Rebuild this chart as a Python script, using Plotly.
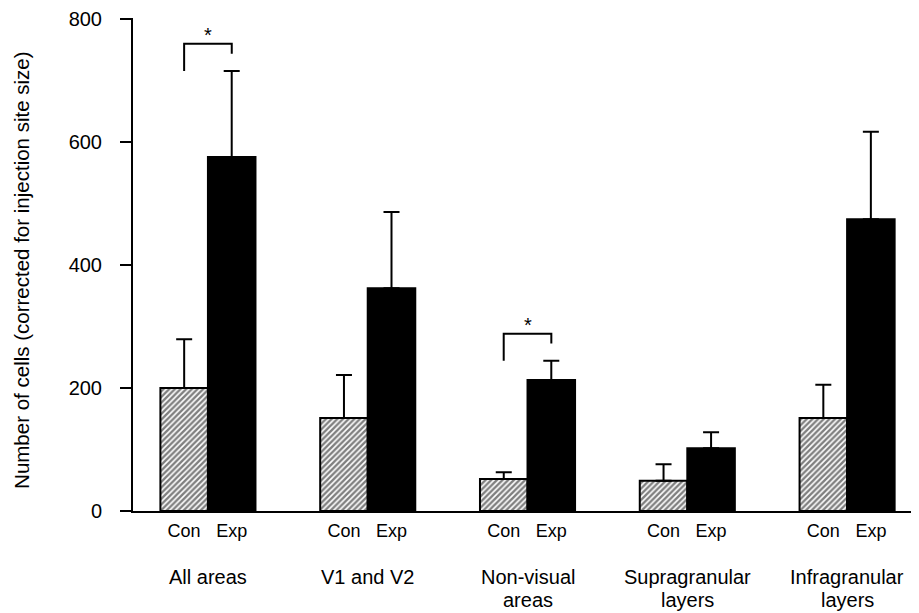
import plotly.graph_objects as go

# ---- data ----
group_lines = [["All areas"], ["V1 and V2"], ["Non-visual", "areas"],
               ["Supragranular", "layers"], ["Infragranular", "layers"]]
con_values = [200, 151, 52, 49, 151]
con_err_top = [279, 221, 63, 76, 205]
exp_values = [575, 362, 213, 102, 474]
exp_err_top = [715, 486, 244, 128, 616]
bar_labels = ["Con", "Exp"]
significant = [0, 2]  # groups with "*"
y_ticks = [0, 200, 400, 600, 800]
y_title = "Number of cells (corrected for injection site size)"

FONT = "Liberation Sans, Arial, Helvetica, sans-serif"
x = list(range(len(group_lines)))
half = 0.149  # offset of each bar centre from group centre

fig = go.Figure()
fig.add_trace(go.Bar(
    x=x, y=con_values, name="Con",
    marker=dict(color="white", line=dict(color="black", width=2),
                pattern=dict(shape="/", fgcolor="black", bgcolor="white", size=4, solidity=0.6)),
    error_y=dict(type="data", symmetric=False,
                 array=[t - v for t, v in zip(con_err_top, con_values)],
                 arrayminus=[0] * len(con_values),
                 color="black", thickness=2, width=8),
))
fig.add_trace(go.Bar(
    x=x, y=exp_values, name="Exp",
    marker=dict(color="black", line=dict(color="black", width=2)),
    error_y=dict(type="data", symmetric=False,
                 array=[t - v for t, v in zip(exp_err_top, exp_values)],
                 arrayminus=[0] * len(exp_values),
                 color="black", thickness=2, width=8),
))

# significance brackets
for g in significant:
    base = exp_err_top[g]
    top = base + 44
    fig.add_trace(go.Scatter(
        x=[g - half, g - half, g + half, g + half],
        y=[base, top, top, top - 16],
        mode="lines", line=dict(color="black", width=2),
        hoverinfo="skip", showlegend=False,
    ))
    fig.add_annotation(x=g, y=top, text="*", showarrow=False, yanchor="bottom",
                       yshift=-4, font=dict(family=FONT, size=20, color="black"))

# group labels (one annotation per line)
for i, lines in enumerate(group_lines):
    for k, line in enumerate(lines):
        fig.add_annotation(x=i, y=0, text=line, showarrow=False, yanchor="middle",
                           yshift=-66 - 23 * k,
                           font=dict(family=FONT, size=20, color="black"))

# y-axis title
fig.add_annotation(xref="paper", yref="paper", x=0, y=0.489, xanchor="center",
                   yanchor="middle", xshift=-111, textangle=-90, text=y_title,
                   showarrow=False, font=dict(family=FONT, size=20.5, color="black"))

tickvals = []
ticktext = []
for i in x:
    tickvals += [i - half, i + half]
    ticktext += bar_labels

# page body has an 8px margin, so the figure is 8px smaller than the window
fig.update_layout(
    width=911, height=605,
    margin=dict(l=125, r=0, t=10, b=102),
    plot_bgcolor="white", paper_bgcolor="white",
    barmode="group", bargap=0.405, bargroupgap=0,
    showlegend=False,
    font=dict(family=FONT, color="black"),
    xaxis=dict(range=[-0.469, 4.45], tickvals=tickvals, ticktext=ticktext,
               showline=True, linecolor="black", linewidth=2, ticks="",
               showgrid=False, zeroline=False, tickfont=dict(size=18),
               ticklabelstandoff=2, automargin=False),
    yaxis=dict(range=[0, 801], tickvals=y_ticks, showline=True, linecolor="black",
               linewidth=2, ticks="outside", ticklen=11, tickwidth=2, tickcolor="black",
               showgrid=False, zeroline=False, tickfont=dict(size=20),
               ticklabelstandoff=14, automargin=False, ticklabeloverflow="allow"),
)

fig.write_html("out.html")
